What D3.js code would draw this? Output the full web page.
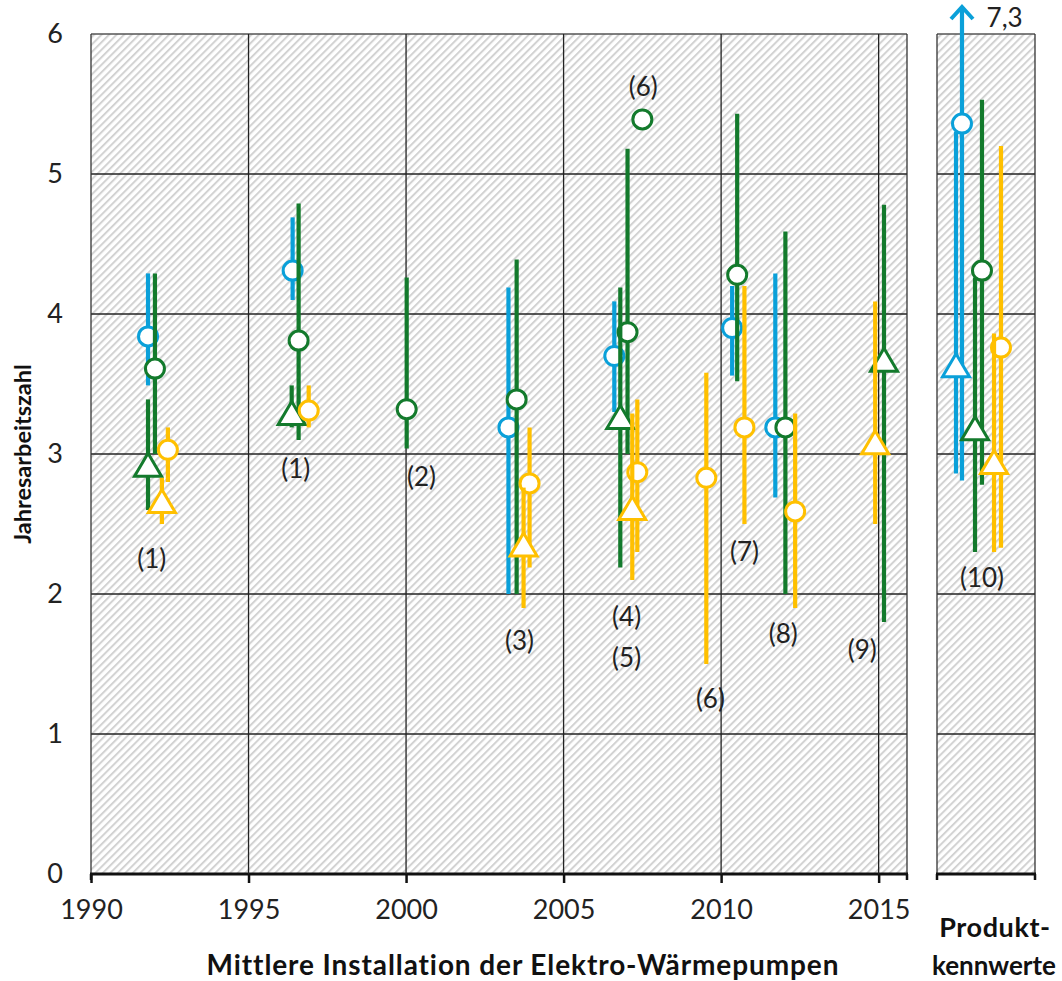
<!DOCTYPE html>
<html>
<head>
<meta charset="utf-8">
<script src="https://cdn.jsdelivr.net/npm/d3@7.9.0/dist/d3.min.js"></script>
<style>
  body { margin: 0; background: #fff; }
  svg { display: block; font-family: Lato, "Open Sans", sans-serif; }
</style>
</head>
<body>
<svg width="1062" height="981"></svg>
<script>
// values: x = mean installation year, p = position in product panel (0..1)
const yTicks = [0, 1, 2, 3, 4, 5, 6];
const yearTicks = [1990, 1995, 2000, 2005, 2010, 2015];

const blueCircles = [
  { x: 1991.81, v: 3.84, lo: 3.49, hi: 4.29 },
  { x: 1996.40, v: 4.31, lo: 4.10, hi: 4.69 },
  { x: 2003.25, v: 3.19, lo: 2.00, hi: 4.19 },
  { x: 2006.61, v: 3.70, lo: 3.30, hi: 4.09 },
  { x: 2010.35, v: 3.90, lo: 3.56, hi: 4.20 },
  { x: 2011.72, v: 3.19, lo: 2.69, hi: 4.29 },
  { p: 0.255, v: 5.36, lo: 2.81, hi: 7.3 }
];
const blueTriangles = [
  { p: 0.194, v: 3.63, lo: 2.86, hi: 5.30 }
];
const greenCircles = [
  { x: 1992.03, v: 3.61, lo: 3.00, hi: 4.29 },
  { x: 1996.59, v: 3.81, lo: 3.10, hi: 4.79 },
  { x: 2000.02, v: 3.32, lo: 3.04, hi: 4.26 },
  { x: 2003.51, v: 3.39, lo: 2.00, hi: 4.39 },
  { x: 2007.03, v: 3.87, lo: 3.00, hi: 5.18 },
  { x: 2007.50, v: 5.39 },
  { x: 2010.51, v: 4.28, lo: 3.52, hi: 5.43 },
  { x: 2012.04, v: 3.19, lo: 2.00, hi: 4.59 },
  { p: 0.459, v: 4.31, lo: 2.78, hi: 5.53 }
];
const greenTriangles = [
  { x: 1991.81, v: 2.92, lo: 2.60, hi: 3.39 },
  { x: 1996.37, v: 3.29, lo: 3.19, hi: 3.49 },
  { x: 2006.80, v: 3.26, lo: 2.19, hi: 4.19 },
  { x: 2015.17, v: 3.67, lo: 1.80, hi: 4.78 },
  { p: 0.388, v: 3.18, lo: 2.30, hi: 4.26 }
];
const orangeCircles = [
  { x: 1992.44, v: 3.03, lo: 2.80, hi: 3.19 },
  { x: 1996.91, v: 3.31, lo: 3.19, hi: 3.49 },
  { x: 2003.92, v: 2.79, lo: 2.19, hi: 3.19 },
  { x: 2007.34, v: 2.87, lo: 2.30, hi: 3.39 },
  { x: 2009.53, v: 2.83, lo: 1.50, hi: 3.58 },
  { x: 2010.74, v: 3.19, lo: 2.50, hi: 4.20 },
  { x: 2012.35, v: 2.59, lo: 1.90, hi: 3.29 },
  { p: 0.653, v: 3.76, lo: 2.33, hi: 5.20 }
];
const orangeTriangles = [
  { x: 1992.25, v: 2.66, lo: 2.50, hi: 2.83 },
  { x: 2003.73, v: 2.35, lo: 1.90, hi: 2.76 },
  { x: 2007.18, v: 2.61, lo: 2.10, hi: 3.29 },
  { x: 2014.89, v: 3.08, lo: 2.50, hi: 4.09 },
  { p: 0.582, v: 2.94, lo: 2.30, hi: 3.86 }
];

const notes = [
  { x: 1991.93, v: 2.26, t: '(1)' },
  { x: 1996.50, v: 2.90, t: '(1)' },
  { x: 2000.49, v: 2.84, t: '(2)' },
  { x: 2003.60, v: 1.67, t: '(3)' },
  { x: 2007.00, v: 1.84, t: '(4)' },
  { x: 2007.00, v: 1.55, t: '(5)' },
  { x: 2009.66, v: 1.26, t: '(6)' },
  { x: 2007.53, v: 5.63, t: '(6)' },
  { x: 2010.74, v: 2.31, t: '(7)' },
  { x: 2011.97, v: 1.72, t: '(8)' },
  { x: 2014.48, v: 1.61, t: '(9)' },
  { p: 0.459, v: 2.12, t: '(10)' },
  { p: 0.69, v: 6.12, t: '7,3' }
];

const colors = { blue: '#0aa0d9', green: '#137a2c', orange: '#ffc000' };

const svg = d3.select('svg');

const y = d3.scaleLinear().domain([0, 6]).range([874, 34]);
const x = d3.scaleLinear().domain([1990, 2015.9]).range([91, 907]);
const xp = d3.scaleLinear().domain([0, 1]).range([937, 1035]);
const pos = d => d.p != null ? xp(d.p) : x(d.x);
const yMax = 6;

// hatch pattern
const defs = svg.append('defs');
defs.append('pattern')
  .attr('id', 'hatch')
  .attr('patternUnits', 'userSpaceOnUse')
  .attr('width', 5.3).attr('height', 5.3)
  .attr('patternTransform', 'rotate(45)')
  .append('rect')
  .attr('x', 0).attr('y', 0)
  .attr('width', 2).attr('height', 5.3)
  .attr('fill', '#d2d2d2');

const panels = [
  { x0: x(1990), x1: x(2015.9) },
  { x0: xp(0), x1: xp(1) }
];

panels.forEach(pn => {
  svg.append('rect')
    .attr('x', pn.x0).attr('y', y(6))
    .attr('width', pn.x1 - pn.x0).attr('height', y(0) - y(6))
    .attr('fill', '#fff');
  svg.append('rect')
    .attr('x', pn.x0).attr('y', y(6))
    .attr('width', pn.x1 - pn.x0).attr('height', y(0) - y(6))
    .attr('fill', 'url(#hatch)');
  // horizontal grid
  svg.append('g').selectAll('line')
    .data(yTicks.filter(t => t > 0))
    .join('line')
    .attr('x1', pn.x0).attr('x2', pn.x1)
    .attr('y1', d => y(d)).attr('y2', d => y(d))
    .attr('stroke', d => d === 6 ? '#555' : '#222')
    .attr('stroke-width', 1.3);
  // side borders
  [pn.x0, pn.x1].forEach(xx => {
    svg.append('line')
      .attr('x1', xx).attr('x2', xx)
      .attr('y1', y(6)).attr('y2', y(0))
      .attr('stroke', '#333').attr('stroke-width', 1.3);
  });
  // bottom axis line
  svg.append('line')
    .attr('x1', pn.x0 - 1).attr('x2', pn.x1 + 1)
    .attr('y1', y(0)).attr('y2', y(0))
    .attr('stroke', '#111').attr('stroke-width', 3);
  [pn.x0, pn.x1].forEach(xx => {
    svg.append('line')
      .attr('x1', xx).attr('x2', xx)
      .attr('y1', y(0)).attr('y2', y(0) + 6)
      .attr('stroke', '#111').attr('stroke-width', 2.5);
  });
});

// vertical grid in main panel
svg.append('g').selectAll('line')
  .data(yearTicks.filter(t => t > 1990))
  .join('line')
  .attr('x1', d => x(d)).attr('x2', d => x(d))
  .attr('y1', y(6)).attr('y2', y(0))
  .attr('stroke', '#222').attr('stroke-width', 1.3);

// x axis ticks & labels
const xAxis = d3.axisBottom(x).tickValues(yearTicks).tickFormat(d3.format('d')).tickSize(9).tickPadding(17);
const gx = svg.append('g').attr('transform', `translate(0,${y(0)})`).call(xAxis);
gx.select('.domain').remove();
gx.selectAll('.tick line').attr('stroke', '#111').attr('stroke-width', 2.5);
gx.selectAll('.tick text').attr('font-size', 27).attr('fill', '#222').attr('font-family', 'Lato, sans-serif');

// y axis labels
const yAxis = d3.axisLeft(y).tickValues(yTicks).tickFormat(d3.format('d')).tickSize(0).tickPadding(28);
const gy = svg.append('g').attr('transform', `translate(${x(1990)},0)`).call(yAxis);
gy.select('.domain').remove();
gy.selectAll('.tick text').attr('font-size', 27).attr('fill', '#222').attr('font-family', 'Lato, sans-serif');

// axis titles
svg.append('text')
  .attr('transform', `translate(31,${(y(0) + y(6)) / 2}) rotate(-90)`)
  .attr('text-anchor', 'middle')
  .attr('font-size', 23.5).attr('font-weight', 'bold').attr('fill', '#111')
  .text('Jahresarbeitszahl');

svg.append('text')
  .attr('x', 523).attr('y', 975)
  .attr('text-anchor', 'middle')
  .attr('font-size', 28).attr('font-weight', 'bold').attr('fill', '#111')
  .attr('letter-spacing', 0.9)
  .text('Mittlere Installation der Elektro-Wärmepumpen');

svg.append('text')
  .attr('x', 995).attr('y', 937)
  .attr('text-anchor', 'middle')
  .attr('font-size', 27).attr('font-weight', 'bold').attr('fill', '#111')
  .attr('letter-spacing', 0.6)
  .text('Produkt-');
svg.append('text')
  .attr('x', 994).attr('y', 975)
  .attr('text-anchor', 'middle')
  .attr('font-size', 26).attr('font-weight', 'bold').attr('fill', '#111')
  .text('kennwerte');

// series
const triPath = 'M0,-12L13.5,11L-13.5,11Z';

function drawSeries(data, color, shape) {
  const g = svg.append('g');
  const withBars = data.filter(d => d.lo != null);
  g.selectAll('line.bar')
    .data(withBars)
    .join('line')
    .attr('class', 'bar')
    .attr('x1', pos).attr('x2', pos)
    .attr('y1', d => y(d.lo))
    .attr('y2', d => d.hi > yMax ? y(yMax) - 26 : y(d.hi))
    .attr('stroke', color).attr('stroke-width', 4.2);
  // arrow for values beyond the axis
  g.selectAll('path.arrow')
    .data(withBars.filter(d => d.hi > yMax))
    .join('path')
    .attr('class', 'arrow')
    .attr('d', d => {
      const cx = pos(d), ty = y(yMax) - 27;
      return `M${cx - 11},${ty + 12}L${cx},${ty}L${cx + 11},${ty + 12}`;
    })
    .attr('fill', 'none').attr('stroke', color).attr('stroke-width', 4);
  if (shape === 'circle') {
    g.selectAll('circle')
      .data(data)
      .join('circle')
      .attr('cx', pos).attr('cy', d => y(d.v))
      .attr('r', 9.5)
      .attr('fill', '#fff').attr('stroke', color).attr('stroke-width', 3);
  } else {
    g.selectAll('path.marker')
      .data(data)
      .join('path')
      .attr('class', 'marker')
      .attr('transform', d => `translate(${pos(d)},${y(d.v)})`)
      .attr('d', triPath)
      .attr('fill', '#fff').attr('stroke', color).attr('stroke-width', 3);
  }
}

drawSeries(blueCircles, colors.blue, 'circle');
drawSeries(blueTriangles, colors.blue, 'triangle');
drawSeries(greenCircles, colors.green, 'circle');
drawSeries(greenTriangles, colors.green, 'triangle');
drawSeries(orangeCircles, colors.orange, 'circle');
drawSeries(orangeTriangles, colors.orange, 'triangle');

// annotations
svg.append('g').selectAll('text')
  .data(notes)
  .join('text')
  .attr('x', pos).attr('y', d => y(d.v))
  .attr('text-anchor', 'middle')
  .attr('dominant-baseline', 'central')
  .attr('font-size', 26).attr('fill', '#222')
  .text(d => d.t);
</script>
</body>
</html>
